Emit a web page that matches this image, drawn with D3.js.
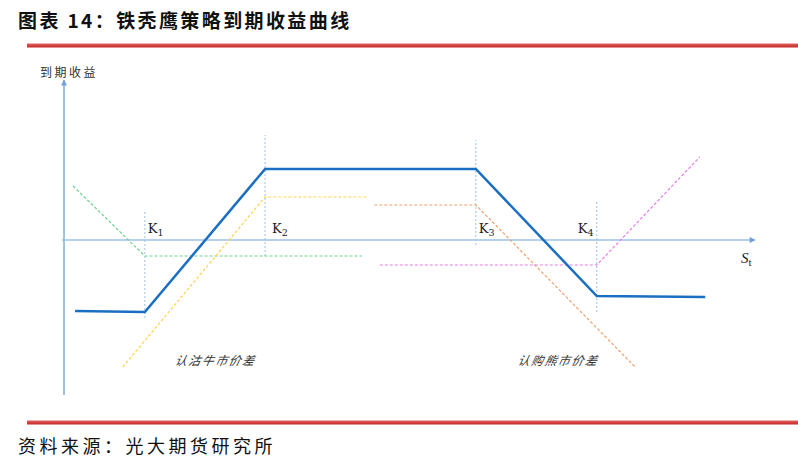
<!DOCTYPE html>
<html>
<head>
<meta charset="utf-8">
<script src="https://cdn.jsdelivr.net/npm/d3@7"></script>
<style>
  body { margin: 0; background: #fff; }
  svg { display: block; }
</style>
</head>
<body>
<div id="chart"></div>
<script>
// strikes (price units on the St axis)
const strikes = [
  { name: 'K', sub: '1', x: 11.7, y0: -7.8, y1: 2.9 },
  { name: 'K', sub: '2', x: 29.1, y0: -1.6, y1: 10.5 },
  { name: 'K', sub: '3', x: 59.6, y0: -0.5, y1: 10.0 },
  { name: 'K', sub: '4', x: 77.1, y0: -7.2, y1: 3.8 }
];

// combined payoff (iron condor)
const payoff = [[1.6, -7.1], [11.7, -7.2], [29.1, 7.1], [59.6, 7.1], [77.1, -5.6], [92.8, -5.7]];

// option legs
const legs = [
  { key: 'putK1', color: '#6fcf8f', pts: [[1.3, 5.4], [11.7, -1.6], [43.1, -1.6]] },
  { key: 'callK2', color: '#ffd34d', pts: [[8.5, -12.7], [29.1, 4.3], [44.0, 4.3]] },
  { key: 'callK3', color: '#f2a06a', pts: [[44.9, 3.5], [59.6, 3.5], [82.8, -12.8]] },
  { key: 'callK4', color: '#e77de6', pts: [[45.7, -2.5], [77.1, -2.5], [92.0, 8.3]] }
];

const spreadLabels = [
  { text: '认沽牛市价差', x: 21.8, y: -12.5 },
  { text: '认购熊市价差', x: 71.4, y: -12.5 }
];

const width = 798, height = 474;
const svg = d3.select('#chart').append('svg')
  .attr('width', width).attr('height', height)
  .style('font-family', '"Noto Sans CJK SC", sans-serif');

// header / footer
svg.append('text')
  .attr('x', 18).attr('y', 28)
  .attr('font-size', 19).attr('font-weight', 700)
  .attr('letter-spacing', 2.4)
  .attr('fill', '#111')
  .text('图表 14：铁秃鹰策略到期收益曲线');

const grad = svg.append('defs').append('linearGradient')
  .attr('id', 'redbar').attr('x1', 0).attr('x2', 0).attr('y1', 0).attr('y2', 1);
grad.append('stop').attr('offset', 0).attr('stop-color', '#e06060');
grad.append('stop').attr('offset', 1).attr('stop-color', '#c82828');

svg.append('rect').attr('x', 27).attr('y', 43.5).attr('width', 771).attr('height', 4).attr('fill', 'url(#redbar)');
svg.append('rect').attr('x', 27).attr('y', 420.5).attr('width', 771).attr('height', 4).attr('fill', 'url(#redbar)');

svg.append('text')
  .attr('x', 18).attr('y', 453)
  .attr('font-size', 18)
  .attr('letter-spacing', 3.5)
  .attr('fill', '#111')
  .text('资料来源：光大期货研究所');

// scales
const x = d3.scaleLinear().domain([0, 100]).range([64, 755]);
const y = d3.scaleLinear().domain([-15.5, 16]).range([395, 80]);

const axisColor = '#9cc2e5';

// arrow marker
svg.select('defs').append('marker')
  .attr('id', 'arrow')
  .attr('viewBox', '0 0 10 10')
  .attr('refX', 9).attr('refY', 5)
  .attr('markerWidth', 7).attr('markerHeight', 6)
  .attr('markerUnits', 'userSpaceOnUse')
  .attr('orient', 'auto')
  .append('path').attr('d', 'M0,0 L10,5 L0,10 Z').attr('fill', '#6fa3d8');

// axes
svg.append('line')
  .attr('x1', x(0)).attr('x2', x(0))
  .attr('y1', y(-15.5)).attr('y2', y(16))
  .attr('stroke', axisColor).attr('stroke-width', 2)
  .attr('marker-end', 'url(#arrow)');

svg.append('line')
  .attr('x1', x(-0.3)).attr('x2', x(100))
  .attr('y1', y(0)).attr('y2', y(0))
  .attr('stroke', axisColor).attr('stroke-width', 1.5)
  .attr('marker-end', 'url(#arrow)');

svg.append('text')
  .attr('x', 40).attr('y', 77)
  .attr('font-size', 12).attr('letter-spacing', 2.5)
  .attr('fill', '#333')
  .text('到期收益');

const st = svg.append('text')
  .attr('x', 741).attr('y', 263)
  .attr('font-family', '"Liberation Serif", serif')
  .attr('font-size', 15).attr('fill', '#222');
st.append('tspan').attr('font-style', 'italic').text('S');
st.append('tspan').attr('font-size', 11).attr('dy', 3).text('t');

// strike guides
svg.selectAll('.kline')
  .data(strikes)
  .join('line')
  .attr('class', 'kline')
  .attr('x1', d => x(d.x)).attr('x2', d => x(d.x))
  .attr('y1', d => y(d.y0)).attr('y2', d => y(d.y1))
  .attr('stroke', '#9cc2e5').attr('stroke-width', 1)
  .attr('stroke-dasharray', '2,2');

const kOffset = [3, 7, 3, -19];
const klabels = svg.selectAll('.klabel')
  .data(strikes)
  .join('text')
  .attr('class', 'klabel')
  .attr('x', (d, i) => x(d.x) + kOffset[i])
  .attr('y', 233)
  .attr('font-family', '"DejaVu Serif", serif')
  .attr('font-size', 13).attr('fill', '#222');
klabels.append('tspan').text(d => d.name);
klabels.append('tspan').attr('font-size', 9.5).attr('dy', 3).text(d => d.sub);

const line = d3.line().x(d => x(d[0])).y(d => y(d[1]));

// legs
svg.selectAll('.leg')
  .data(legs)
  .join('path')
  .attr('class', 'leg')
  .attr('d', d => line(d.pts))
  .attr('fill', 'none')
  .attr('stroke', d => d.color)
  .attr('stroke-width', 1.2)
  .attr('stroke-dasharray', '3,2');

// payoff
svg.append('path')
  .attr('d', line(payoff))
  .attr('fill', 'none')
  .attr('stroke', '#1a6fc2')
  .attr('stroke-width', 2.5)
  .attr('stroke-linejoin', 'miter');

svg.selectAll('.spread')
  .data(spreadLabels)
  .join('text')
  .attr('class', 'spread')
  .attr('x', d => x(d.x)).attr('y', d => y(d.y))
  .attr('text-anchor', 'middle')
  .attr('font-size', 12).attr('font-style', 'italic')
  .attr('letter-spacing', 1.5)
  .attr('fill', '#333')
  .attr('transform', d => `translate(${x(d.x)},${y(d.y)}) skewX(-12) translate(${-x(d.x)},${-y(d.y)})`)
  .text(d => d.text);
</script>
</body>
</html>
